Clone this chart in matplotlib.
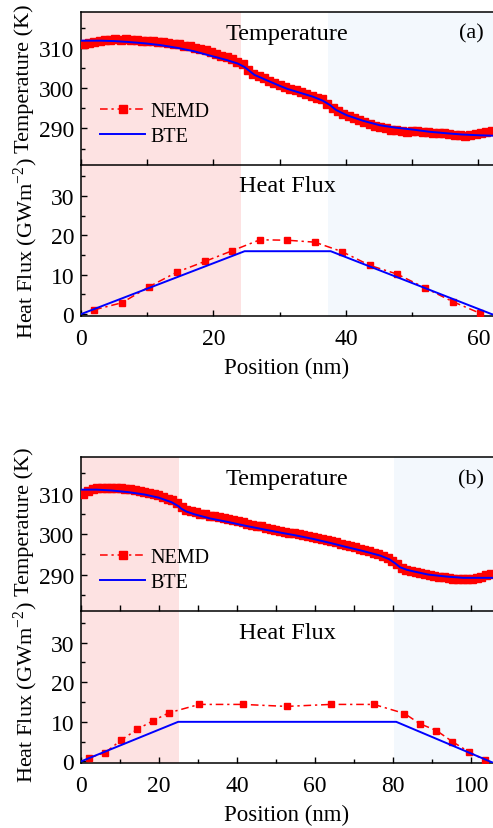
import numpy as np
import matplotlib
import matplotlib.pyplot as plt
from matplotlib.ticker import MultipleLocator

matplotlib.use("Agg")

plt.rcParams["font.family"] = ["Liberation Serif", "DejaVu Serif"]
plt.rcParams["mathtext.fontset"] = "custom"
plt.rcParams["mathtext.rm"] = "Liberation Serif"

# ---- panel (a) : 62 nm ----
a_nemd_T = [310.9, 311.2, 311.5, 311.7, 311.9, 312.0, 312.1, 312.0, 312.1, 311.9,
            312.0, 311.8, 311.8, 311.6, 311.5, 311.4, 311.3, 311.0, 310.9, 310.6,
            310.4, 310.0, 309.8, 309.4, 309.0, 308.6, 308.1, 307.7, 307.2, 306.6,
            305.9, 304.6, 303.6, 303.0, 302.5, 301.9, 301.4, 300.8, 300.4, 299.8,
            299.5, 299.0, 298.6, 298.1, 297.6, 297.2, 296.2, 295.2, 294.4, 293.7,
            293.2, 292.5, 292.0, 291.5, 291.0, 290.6, 290.3, 290.0, 289.7, 289.6,
            289.4, 289.2, 289.3, 289.4, 289.1, 289.0, 288.8, 288.8, 288.9, 288.7,
            288.5, 288.3, 288.2, 288.3, 288.6, 288.9, 289.2, 289.4]
a_bte_Tx = [0, 3, 5, 7, 9.6, 12, 14.6, 17, 19.7, 22, 23.7, 24.7, 25.5, 26.2, 28,
            29.7, 31.2, 33, 35, 36.5, 37.6, 38.5, 40.1, 42.6, 45.1, 47.5, 50.2,
            52.5, 55.2, 57.5, 60.2, 62.4]
a_bte_T = [311.8, 311.8, 311.7, 311.5, 311.15, 310.7, 310.0, 309.2, 308.0, 307.0,
           306.1, 305.25, 304.2, 303.3, 302.0, 300.8, 299.8, 298.9, 297.9, 296.9,
           295.8, 294.6, 293.3, 291.9, 290.8, 290.2, 289.7, 289.2, 288.8, 288.5,
           288.3, 288.2]
a_flux_x = [2.0, 6.2, 10.3, 14.5, 18.7, 22.8, 27.0, 31.1, 35.3, 39.4, 43.6, 47.7,
            51.9, 56.1, 60.2]
a_flux = [1.1, 2.9, 7.0, 10.7, 13.4, 16.1, 18.9, 18.8, 18.3, 15.9, 12.4, 10.2,
          6.7, 3.2, 0.25]
a_bte_fx = [0, 24.7, 37.7, 62.0, 62.4]
a_bte_f = [0, 16, 16, 0, -0.2]

# ---- panel (b) : 105 nm ----
b_nemd_T = [309.9, 310.6, 311.1, 311.3, 311.4, 311.5, 311.4, 311.5, 311.3, 311.2,
            311.1, 310.9, 310.7, 310.4, 310.2, 309.9, 309.6, 309.2, 308.8, 308.4,
            307.7, 306.8, 306.0, 305.6, 305.4, 305.1, 304.9, 304.6, 304.5, 304.2,
            303.9, 303.7, 303.4, 303.2, 303.0, 302.6, 302.3, 302.0, 301.9, 301.6,
            301.3, 301.1, 300.9, 300.6, 300.4, 300.2, 300.0, 299.8, 299.6, 299.4,
            299.0, 298.8, 298.5, 298.2, 298.0, 297.6, 297.3, 297.0, 296.7, 296.4,
            296.1, 295.8, 295.4, 295.1, 294.6, 294.0, 293.3, 292.5, 291.7, 291.2,
            290.9, 290.6, 290.3, 290.1, 289.9, 289.7, 289.5, 289.3, 289.2, 289.0,
            289.0, 288.9, 288.9, 289.0, 289.1, 289.4, 289.8, 290.2]
b_bte_Tx = [0, 4, 7.8, 12, 16.3, 20, 23.2, 25, 25.7, 27, 29.1, 33, 37.7, 42, 46.2,
            51, 55, 59.6, 64, 68.1, 72, 76.7, 79, 80.5, 81.8, 83.5, 85.2, 89, 93.8,
            98, 102.3, 105.9]
b_bte_T = [311.0, 311.0, 310.8, 310.4, 309.8, 309.0, 307.9, 306.9, 306.3, 305.6,
           304.9, 303.9, 303.0, 302.1, 301.3, 300.4, 299.7, 298.8, 297.8, 296.8,
           295.9, 294.7, 293.8, 292.8, 291.8, 291.2, 290.8, 290.0, 289.5, 289.2,
           289.2, 289.2]
b_flux_x = [2.0, 6.2, 10.3, 14.4, 18.5, 22.6, 30.3, 41.5, 52.7, 64.0, 75.1, 82.9,
            86.9, 91.1, 95.2, 99.4, 103.6]
b_flux = [0.9, 2.2, 5.4, 8.1, 10.3, 12.3, 14.4, 14.4, 13.9, 14.4, 14.4, 12.1,
          9.5, 7.8, 5.0, 2.4, 0.3]
b_bte_fx = [0, 24.9, 80.8, 104.8, 105.9]
b_bte_f = [0, 10, 10, 0, -0.45]

W, H = 493, 829
RED, BLUE = "#ff0000", "#0000ff"
PINK, PALE = "#fde2e2", "#f3f8fd"
DASH = (0, (5, 2.5, 1.5, 2.5))


def axes_at(fig, y_top, y_bot):
    return fig.add_axes([81 / W, 1 - y_bot / H, (W - 81) / W, (y_bot - y_top) / H])


def style(ax):
    for side in ("left", "top", "bottom"):
        ax.spines[side].set_linewidth(1.1)
    ax.spines["right"].set_visible(False)
    ax.tick_params(which="both", direction="in", width=1.0, labelsize=17,
                   top=False, right=False)
    ax.tick_params(which="major", length=4)
    ax.tick_params(which="minor", length=3)
    ax.tick_params(axis="y", pad=5)
    ax.tick_params(axis="x", pad=8.5)


def draw_panel(fig, tops, xmax, pink_end, pale_start, x_step, t_x0,
               nemd_T, bte_Tx, bte_T, flux_x, flux, bte_fx, bte_f, tag, lab_y):
    ax_t = axes_at(fig, tops[0], tops[1])
    ax_f = axes_at(fig, tops[1], tops[2])
    for ax in (ax_t, ax_f):
        ax.axvspan(0, pink_end, color=PINK, lw=0, zorder=0)
        ax.axvspan(pale_start, xmax + 5, color=PALE, lw=0, zorder=0)
        ax.set_xlim(0, xmax)
        style(ax)

    tx = t_x0 + x_step * np.arange(len(nemd_T))
    ax_t.plot(tx, nemd_T, color=RED, ls=DASH, lw=1.1, marker="s", ms=5.4,
              mec=RED, mfc=RED, label="NEMD", zorder=3)
    ax_t.plot(bte_Tx, bte_T, color=BLUE, lw=1.4, label="BTE", zorder=4)
    ax_t.set_ylim(281, 319)
    ax_t.yaxis.set_major_locator(MultipleLocator(10))
    ax_t.yaxis.set_minor_locator(MultipleLocator(5))
    ax_t.xaxis.set_major_locator(MultipleLocator(10))
    ax_t.tick_params(axis="x", labelbottom=False)
    ax_t.set_ylabel("Temperature (K)", fontsize=16)
    ax_t.yaxis.set_label_coords(-0.115, lab_y[0])
    ax_t.text(0.5, 0.86, "Temperature", transform=ax_t.transAxes,
              fontsize=17.5, ha="center", va="center")
    ax_t.text(0.947, 0.86, tag, transform=ax_t.transAxes,
              fontsize=16, ha="center", va="center")
    ax_t.legend(loc="upper left", bbox_to_anchor=(0.046, 0.41), frameon=False,
                fontsize=14.5, handlelength=2.25, handletextpad=0.25,
                labelspacing=0.3, borderpad=0, borderaxespad=0)

    ax_f.plot(flux_x, flux, color=RED, ls=DASH, lw=1.1, marker="s", ms=5.0,
              mec=RED, mfc=RED, zorder=3)
    ax_f.plot(bte_fx, bte_f, color=BLUE, lw=1.4, zorder=4)
    ax_f.set_ylim(-0.4, 38)
    ax_f.yaxis.set_major_locator(MultipleLocator(10))
    ax_f.yaxis.set_minor_locator(MultipleLocator(5))
    ax_f.xaxis.set_major_locator(MultipleLocator(20))
    ax_f.xaxis.set_minor_locator(MultipleLocator(10))
    ax_f.spines["top"].set_visible(False)
    ax_f.set_ylabel(r"Heat Flux (GWm$^{\mathrm{-2}}$)", fontsize=16)
    ax_f.yaxis.set_label_coords(-0.100, lab_y[1])
    ax_f.set_xlabel("Position (nm)", fontsize=16.5, labelpad=6)
    ax_f.text(0.5, 0.86, "Heat Flux", transform=ax_f.transAxes,
              fontsize=17.5, ha="center", va="center")
    ax_t.set_zorder(2)


fig = plt.figure(figsize=(W / 100, H / 100), dpi=100)
draw_panel(fig, (12.7, 165.7, 316.7), 62.2, 24.2, 37.3, 0.8, 0.4,
           a_nemd_T, a_bte_Tx, a_bte_T, a_flux_x, a_flux, a_bte_fx, a_bte_f, "(a)",
           (0.567, 0.455))
draw_panel(fig, (458.3, 612.0, 764.0), 105.6, 25.2, 80.3, 1.2, 0.6,
           b_nemd_T, b_bte_Tx, b_bte_T, b_flux_x, b_flux, b_bte_fx, b_bte_f, "(b)",
           (0.59, 0.47))
fig.savefig("out.png", dpi=100)
